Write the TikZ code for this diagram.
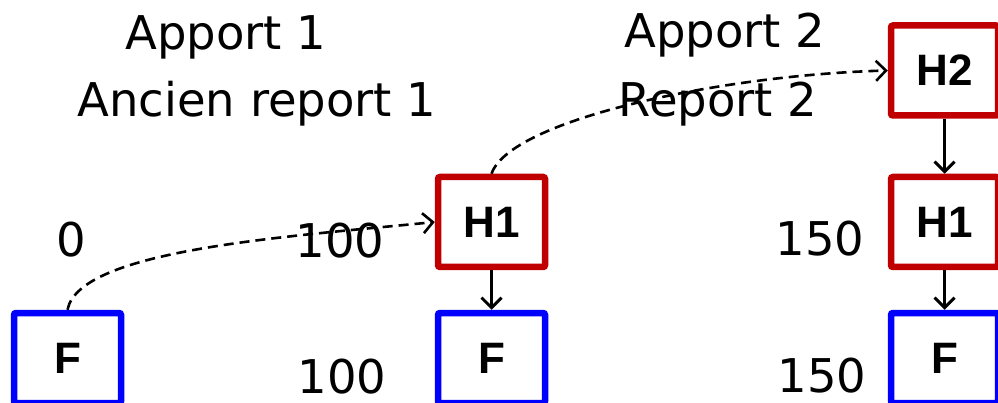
\documentclass[tikz,border=0pt]{standalone}
\usepackage{fontspec}
\setmainfont{DejaVu Sans}
\newfontfamily\labelfont{Liberation Sans}
\usetikzlibrary{arrows.meta}
\begin{document}
\begin{tikzpicture}[x=1pt,y=-1pt,
  box/.style={draw,line width=6.5pt,rounded corners=2pt,minimum width=107pt,minimum height=90pt,
    inner sep=0pt,font=\labelfont\bfseries\fontsize{44}{48}\selectfont},
  hbox/.style={box,draw={rgb,255:red,192;green,0;blue,0}},
  fbox/.style={box,draw={rgb,255:red,0;green,0;blue,255}},
  txt/.style={anchor=base,inner sep=0pt,font=\fontsize{46.5}{52}\selectfont},
  link/.style={line width=2.6pt,dash pattern=on 10pt off 6pt,-{Straight Barb[length=10pt,width=20pt,line width=2.6pt]}},
  down/.style={line width=3pt,-{Straight Barb[length=10pt,width=20pt,line width=3pt]}}]
\useasboundingbox (0,0) rectangle (998,403);

% boxes
\node[fbox] (fA) at (67.5,358) {F};
\node[hbox] (h1a) at (491.5,222) {H1};
\node[fbox] (fB) at (491.5,358) {F};
\node[hbox] (h2) at (944.5,70.5) {H2};
\node[hbox] (h1b) at (944.5,222) {H1};
\node[fbox] (fC) at (944.5,358) {F};

% captions
\node[txt] (ap1) at (226,50) {Apport 1};
\node[txt] (ar1) at (257,117) {Ancien report 1};
\node[txt] (ap2) at (725,48) {Apport 2};
\node[txt] (rp2) at (718,117) {Report 2};
\node[txt] (v0) at (71,257) {0};
\node[txt] (v100a) at (340,258) {100};
\node[txt] (v100b) at (342,393) {100};
\node[txt] (v150a) at (820,255) {150};
\node[txt] (v150b) at (822,392) {150};

% connectors
\draw[link] (fA.north) .. controls +(12,-60) and +(-150,15) .. (h1a.west);
\draw[link] (h1a.north) .. controls (510,120) and (720,75) .. (h2.west);
\draw[down] (h1a.south) -- (fB.north);
\draw[down] (h2.south) -- (h1b.north);
\draw[down] (h1b.south) -- (fC.north);
\end{tikzpicture}
\end{document}
